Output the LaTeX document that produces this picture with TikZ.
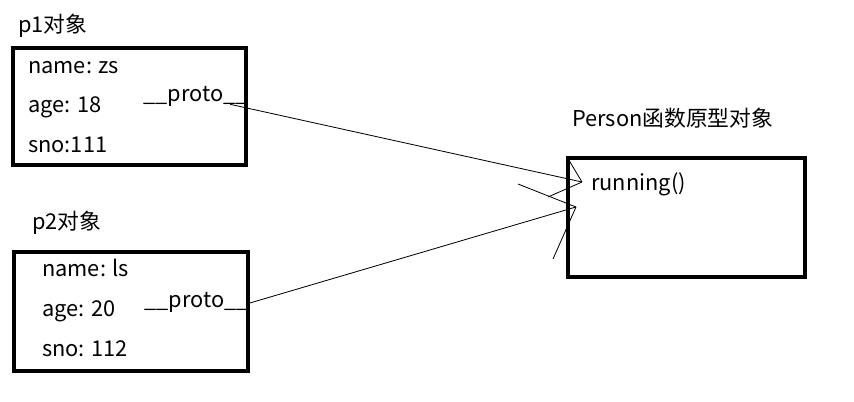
\documentclass[tikz,border=0pt]{standalone}
\usepackage{fontspec}
\setmainfont{Noto Sans CJK SC}
\usetikzlibrary{fit}

\begin{document}
\begin{tikzpicture}[x=0.03cm, y=-0.03cm,
  objbox/.style={draw, line width=3pt, inner sep=0pt},
  txt/.style={anchor=base west, inner sep=0pt, font=\fontsize{18.6}{22}\selectfont},
  link/.style={line width=0.7pt}]
\useasboundingbox (0,0) rectangle (854,402);
% p1
\node[txt] (p1lab) at (18,33) {p1对象};
\node[objbox, fit={(13,48) (246,165)}] (p1) {};
\node[txt] (p1name) at (28,74) {name: zs};
\node[txt] (p1age) at (28,113) {age: 18};
\node[txt] (p1sno) at (28,153) {sno:111};
\node[txt] (proto1) at (143,102) {\_\_proto\_\_};
% p2
\node[txt] (p2lab) at (32,230) {p2对象};
\node[objbox, fit={(14,252) (248,371)}] (p2) {};
\node[txt] (p2name) at (42,277) {name: ls};
\node[txt] (p2age) at (42,317) {age: 20};
\node[txt] (p2sno) at (42,357) {sno: 112};
\node[txt] (proto2) at (144,308) {\_\_proto\_\_};
% Person
\node[txt] (perlab) at (572,127) {Person函数原型对象};
\node[objbox, fit={(568,158) (805,277)}] (per) {};
\node[txt] (run) at (591,191) {running()};
\coordinate (tip1) at (582,182);
\coordinate (tip2) at (576,207);
\draw[link] ([xshift=-15pt,yshift=-2pt]proto1.base east) -- (tip1);
\draw[link] (tip1) -- +(-15,-25) (tip1) -- +(-34,15);
\draw[link] ([yshift=4pt]proto2.base east) -- (tip2);
\draw[link] (tip2) -- +(-58,-23) (tip2) -- +(-23,52);
\end{tikzpicture}
\end{document}
